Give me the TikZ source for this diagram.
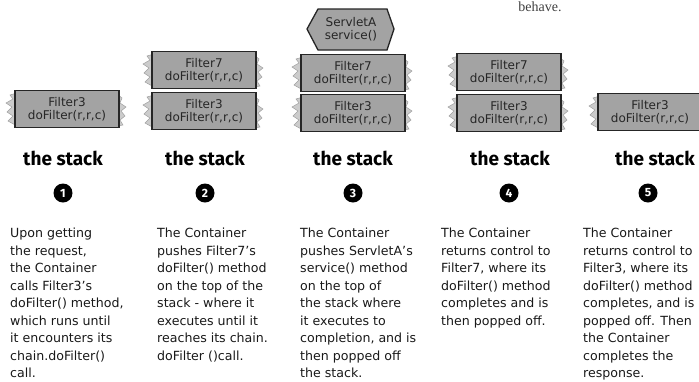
\documentclass[tikz,border=0pt]{standalone}
\usepackage{fontspec}
\setmainfont{DejaVu Sans}
\newfontfamily\headfont{Fira Sans}
\newfontfamily\serifont{Liberation Serif}
\begin{document}
\begin{tikzpicture}[x=1pt,y=-1pt,
  plankbox/.style={draw=black!85, line width=1.3pt, fill=gray!72, minimum width=104pt, minimum height=37pt,
    inner sep=0pt, align=center, font=\fontsize{12}{13}\selectfont, text=black!85},
  fringe/.style={fill=gray!40, draw=gray!75, line width=0.5pt},
  stacklabel/.style={font=\headfont\bfseries\fontsize{19}{20}\selectfont},
  stepnum/.style={circle, fill=black, text=white, inner sep=0pt, minimum size=19pt, font=\headfont\bfseries\fontsize{12}{12}\selectfont},
  bodytext/.style={anchor=north west, align=left, inner sep=0pt, font=\fontsize{12.6}{17.5}\selectfont, text=black!90}]
\newcommand\plank[5]{%
  \fill[fringe] (#2-50,#3-16) -- (#2-57,#3-14) -- (#2-54,#3-10) -- (#2-61,#3-6) -- (#2-55,#3-2) -- (#2-60,#3+3) -- (#2-54,#3+7) -- (#2-59,#3+12) -- (#2-50,#3+17) -- cycle;
  \fill[fringe] (#2+50,#3-15) -- (#2+55,#3-11) -- (#2+53,#3-6) -- (#2+59,#3-2) -- (#2+54,#3+2) -- (#2+58,#3+7) -- (#2+53,#3+11) -- (#2+56,#3+16) -- (#2+50,#3+17) -- cycle;
  \node[plankbox] (#1) at (#2,#3) {#4\\#5};}
\path[use as bounding box] (0,0) rectangle (699,381);
\clip (0,0) rectangle (699,381);
\fill[white] (0,0) rectangle (699,381);

\node[font=\serifont\fontsize{14}{14}\selectfont, text=black!75] (behave) at (540,7) {behave.};

% stack 1
\plank{s1a}{67}{109}{Filter3}{doFilter(r,r,c)}
% stack 2
\plank{s2b}{204}{70}{Filter7}{doFilter(r,r,c)}
\plank{s2a}{204}{111}{Filter3}{doFilter(r,r,c)}
% stack 3
\fill[gray!72, draw=black!85, line width=1.3pt] (307,29) -- (318,9) -- (387,9) -- (394,29) -- (387,50) -- (318,50) -- cycle;
\node[align=center, font=\fontsize{12}{13}\selectfont, text=black!85] (s3c) at (351,29) {ServletA\\service()};
\plank{s3b}{353}{73}{Filter7}{doFilter(r,r,c)}
\plank{s3a}{353}{113}{Filter3}{doFilter(r,r,c)}
% stack 4
\plank{s4b}{509}{72}{Filter7}{doFilter(r,r,c)}
\plank{s4a}{509}{113}{Filter3}{doFilter(r,r,c)}
% stack 5
\plank{s5a}{650}{112}{Filter3}{doFilter(r,r,c)}

\node[stacklabel] (l1) at (63,158) {the stack};
\node[stacklabel] (l2) at (205,158) {the stack};
\node[stacklabel] (l3) at (353,158) {the stack};
\node[stacklabel] (l4) at (510,158) {the stack};
\node[stacklabel] (l5) at (655,158) {the stack};

\node[stepnum] (n1) at (63,193) {1};
\node[stepnum] (n2) at (205,193) {2};
\node[stepnum] (n3) at (353,193) {3};
\node[stepnum] (n4) at (509,193) {4};
\node[stepnum] (n5) at (648,193) {5};

\node[bodytext] (t1) at (10,228) {Upon getting\\the request,\\the Container\\calls Filter3's\\doFilter() method,\\which runs until\\it encounters its\\chain.doFilter()\\call.};
\node[bodytext] (t2) at (157,228) {The Container\\pushes Filter7's\\doFilter() method\\on the top of the\\stack - where it\\executes until it\\reaches its chain.\\doFilter ()call.};
\node[bodytext] (t3) at (300,228) {The Container\\pushes ServletA's\\service() method\\on the top of\\the stack where\\it executes to\\completion, and is\\then popped off\\the stack.};
\node[bodytext] (t4) at (441,228) {The Container\\returns control to\\Filter7, where its\\doFilter() method\\completes and is\\then popped off.};
\node[bodytext] (t5) at (583,228) {The Container\\returns control to\\Filter3, where its\\doFilter() method\\completes, and is\\popped off. Then\\the Container\\completes the\\response.};
\end{tikzpicture}
\end{document}
